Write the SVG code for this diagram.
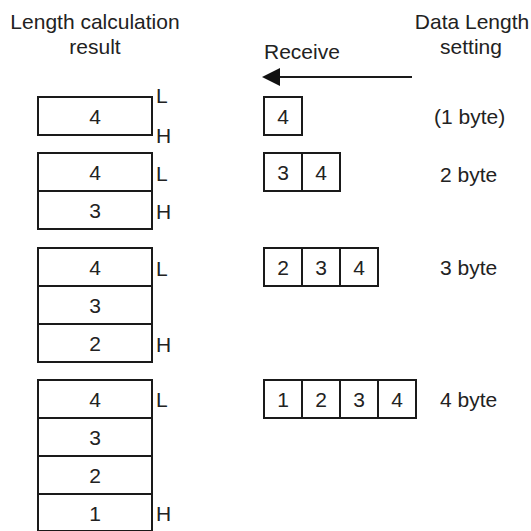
<svg xmlns="http://www.w3.org/2000/svg" width="531" height="531" viewBox="0 0 531 531">
<style>
text{font-family:"Liberation Sans",Arial,sans-serif;font-size:21px;fill:#222}
.c{text-anchor:middle}
.cell{fill:#fff;stroke:#1a1a1a;stroke-width:2}
.ln{stroke:#1a1a1a;stroke-width:2;fill:none}
</style>
<defs>
<marker id="ah" markerWidth="9" markerHeight="9" refX="1" refY="4.5" orient="auto" markerUnits="userSpaceOnUse" viewBox="0 0 9 9">
<path d="M9,0 L0,4.5 L9,9 Z" fill="#111"/>
</marker>
</defs>
<rect width="531" height="531" fill="#fff"/>
<g id="titles">
<text class="c" x="95" y="29">Length calculation</text>
<text class="c" x="95" y="54">result</text>
<text class="c" x="472" y="29">Data Length</text>
<text class="c" x="471" y="54">setting</text>
<text x="264" y="59">Receive</text>
</g>
<g id="connectors">
<line class="ln" x1="412" y1="77" x2="280" y2="77"/>
<path d="M280,68 L262,77 L280,86 Z" fill="#111"/>
</g>
<g id="result1">
<rect class="cell" x="38" y="97" width="114" height="38"/>
<text class="c" x="95" y="124">4</text>
<text x="156" y="103">L</text>
<text x="156" y="143">H</text>
</g>
<g id="result2">
<rect class="cell" x="38" y="153" width="114" height="38"/>
<rect class="cell" x="38" y="191" width="114" height="38"/>
<text class="c" x="95" y="180">4</text>
<text class="c" x="95" y="218">3</text>
<text x="156" y="181">L</text>
<text x="156" y="219">H</text>
</g>
<g id="result3">
<rect class="cell" x="38" y="248" width="114" height="38"/>
<rect class="cell" x="38" y="286" width="114" height="38"/>
<rect class="cell" x="38" y="324" width="114" height="38"/>
<text class="c" x="95" y="275">4</text>
<text class="c" x="95" y="313">3</text>
<text class="c" x="95" y="351">2</text>
<text x="156" y="276">L</text>
<text x="156" y="352">H</text>
</g>
<g id="result4">
<rect class="cell" x="38" y="380" width="114" height="38"/>
<rect class="cell" x="38" y="418" width="114" height="38"/>
<rect class="cell" x="38" y="456" width="114" height="38"/>
<rect class="cell" x="38" y="494" width="114" height="37"/>
<text class="c" x="95" y="407">4</text>
<text class="c" x="95" y="445">3</text>
<text class="c" x="95" y="483">2</text>
<text class="c" x="95" y="521">1</text>
<text x="156" y="407">L</text>
<text x="156" y="521">H</text>
</g>
<g id="recv1">
<rect class="cell" x="264" y="97" width="38" height="38"/>
<text class="c" x="283" y="124">4</text>
<text x="434" y="124">(1 byte)</text>
</g>
<g id="recv2">
<rect class="cell" x="264" y="153" width="38" height="38"/>
<rect class="cell" x="302" y="153" width="38" height="38"/>
<text class="c" x="283" y="180">3</text>
<text class="c" x="321" y="180">4</text>
<text x="440" y="182">2 byte</text>
</g>
<g id="recv3">
<rect class="cell" x="264" y="248" width="38" height="38"/>
<rect class="cell" x="302" y="248" width="38" height="38"/>
<rect class="cell" x="340" y="248" width="38" height="38"/>
<text class="c" x="283" y="275">2</text>
<text class="c" x="321" y="275">3</text>
<text class="c" x="359" y="275">4</text>
<text x="440" y="275">3 byte</text>
</g>
<g id="recv4">
<rect class="cell" x="264" y="380" width="38" height="38"/>
<rect class="cell" x="302" y="380" width="38" height="38"/>
<rect class="cell" x="340" y="380" width="38" height="38"/>
<rect class="cell" x="378" y="380" width="38" height="38"/>
<text class="c" x="283" y="407">1</text>
<text class="c" x="321" y="407">2</text>
<text class="c" x="359" y="407">3</text>
<text class="c" x="397" y="407">4</text>
<text x="440" y="407">4 byte</text>
</g>
</svg>
